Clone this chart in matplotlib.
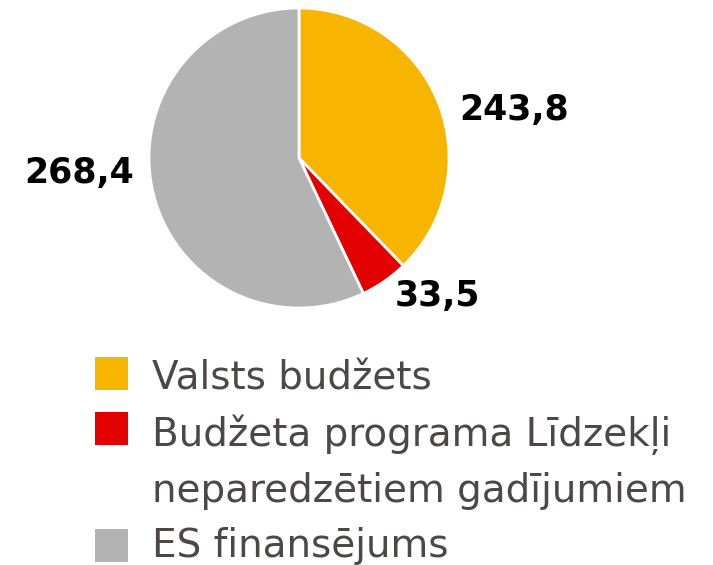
import matplotlib.pyplot as plt
from matplotlib.patches import Rectangle

labels = ['Valsts budžets', 'Budžeta programa Līdzekļi\nneparedzētiem gadījumiem', 'ES finansējums']
# wedge sizes as drawn in the picture (grey slice is ~57 %)
values = [243.8, 33.5, 368.4]
value_text = ['243,8', '33,5', '268,4']
colors = ['#F7B500', '#E30000', '#B3B3B3']

W, H = 713, 565
fig = plt.figure(figsize=(W / 100, H / 100), dpi=100)

# pie: centre (299,158), radius 150 px
ax = fig.add_axes([(299 - 150) / W, (H - 308) / H, 300 / W, 300 / H])
ax.pie(values, colors=colors, startangle=90, counterclock=False,
       wedgeprops=dict(edgecolor='white', linewidth=2))
ax.set_xlim(-1, 1)
ax.set_ylim(-1, 1)
ax.set_aspect('equal')

# value labels (pixel positions of label centres)
label_pos = [(514, 110), (437, 296), (79, 173)]
for txt, (x, y) in zip(value_text, label_pos):
    fig.text(x / W, 1 - y / H, txt, ha='center', va='center',
             fontsize=25, fontweight='bold', color='black', family='DejaVu Sans')

# legend drawn by hand, one text per line
box_top = [357, 412, 529]
text_base = [390, 446, 557]
line_gap = 56
for lab, col, top, base in zip(labels, colors, box_top, text_base):
    fig.patches.append(Rectangle((95 / W, 1 - (top + 33) / H), 33 / W, 33 / H,
                                 transform=fig.transFigure, facecolor=col,
                                 edgecolor='none'))
    for k, line in enumerate(lab.split('\n')):
        fig.text(152 / W, 1 - (base + k * line_gap) / H, line, ha='left',
                 va='baseline', fontsize=28, color='#4D4848',
                 family='DejaVu Sans')

fig.savefig('out.png', dpi=100)
